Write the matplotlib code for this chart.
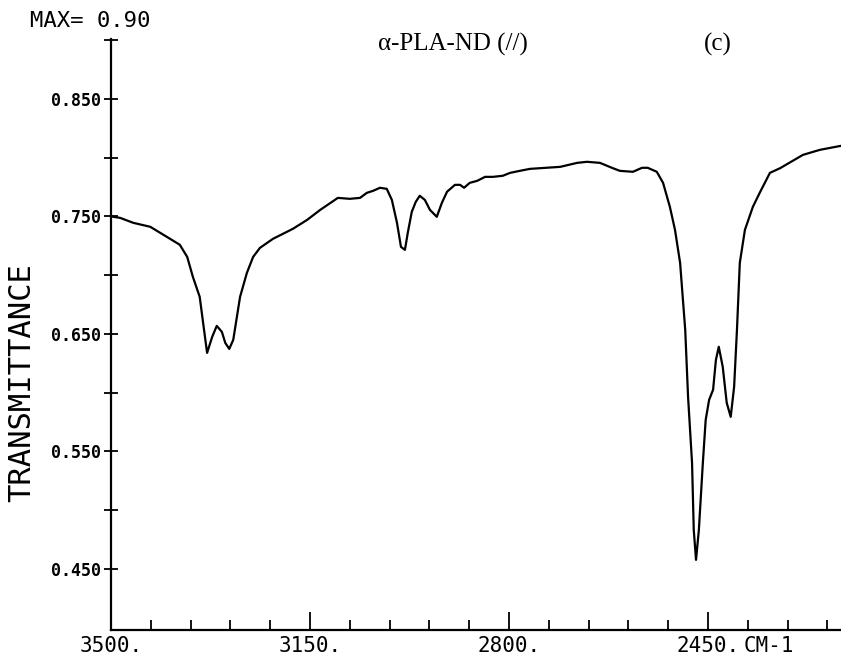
import numpy as np
import matplotlib.pyplot as plt
from matplotlib.ticker import FixedLocator

# wavenumber (cm-1) and transmittance
wavenumber = [3500, 3496, 3484, 3461, 3431, 3402, 3379, 3366, 3356, 3344,
              3338, 3331, 3322, 3314, 3305, 3299, 3292, 3285, 3273, 3261,
              3250, 3238, 3215, 3180, 3155, 3132, 3101, 3080, 3062, 3050,
              3039, 3027, 3015, 3006, 2997, 2990, 2983, 2978, 2971, 2964,
              2957, 2948, 2939, 2927, 2918, 2909, 2895, 2886, 2879, 2869,
              2856, 2842, 2828, 2811, 2798, 2781, 2763, 2710, 2680, 2663,
              2640, 2619, 2605, 2582, 2566, 2556, 2540, 2529, 2517, 2508,
              2499, 2490, 2485, 2478, 2475, 2471, 2466, 2459, 2454, 2448,
              2441, 2436, 2431, 2424, 2417, 2410, 2404, 2399, 2394, 2385,
              2371, 2359, 2341, 2323, 2283, 2253, 2216]
transmittance = [0.750, 0.7496, 0.7487, 0.7445, 0.7411, 0.7326, 0.7258, 0.7155, 0.6985, 0.6815,
                 0.6594, 0.6338, 0.6475, 0.6568, 0.6517, 0.6423, 0.6372, 0.6449, 0.6815, 0.7019,
                 0.7155, 0.7232, 0.7309, 0.7394, 0.7470, 0.7555, 0.7657, 0.7649, 0.7657, 0.7700,
                 0.7717, 0.7743, 0.7734, 0.7640, 0.7445, 0.7240, 0.7215, 0.7360, 0.7538, 0.7623,
                 0.7675, 0.7640, 0.7555, 0.7496, 0.7615, 0.7709, 0.7768, 0.7768, 0.7743, 0.7785,
                 0.7802, 0.7836, 0.7836, 0.7845, 0.7870, 0.7887, 0.7904, 0.7921, 0.7955, 0.7964,
                 0.7955, 0.7913, 0.7887, 0.7879, 0.7913, 0.7913, 0.7879, 0.7785, 0.7581, 0.7385,
                 0.7104, 0.6534, 0.5964, 0.5402, 0.4832, 0.4577, 0.4832, 0.5402, 0.5768, 0.5938,
                 0.6024, 0.6279, 0.6390, 0.6219, 0.5913, 0.5794, 0.6049, 0.6534, 0.7104, 0.7385,
                 0.7581, 0.7700, 0.7870, 0.7910, 0.8023, 0.8066, 0.8100]

x_major = [3500, 3150, 2800, 2450]
x_labels = ['3500.', '3150.', '2800.', '2450.']
x_minor = [3430, 3360, 3290, 3220, 3080, 3010, 2940, 2870,
           2730, 2660, 2590, 2520, 2380, 2310, 2240]
y_major = [0.450, 0.550, 0.650, 0.750, 0.850]
y_labels = ['0.450', '0.550', '0.650', '0.750', '0.850']
y_minor = [0.50, 0.60, 0.70, 0.80, 0.90]

mono = 'DejaVu Sans Mono'

fig = plt.figure(figsize=(8.41, 6.59), dpi=100)
ax = fig.add_axes([0.132, 0.044, 0.868, 0.897])

ax.plot(wavenumber, transmittance, color='black', lw=1.6)

ax.set_xlim(3500, 2216)
ax.set_ylim(0.398, 0.901)

ax.spines['top'].set_visible(False)
ax.spines['right'].set_visible(False)
ax.spines['left'].set_linewidth(1.6)
ax.spines['bottom'].set_linewidth(1.6)

ax.set_xticks(x_major)
ax.set_xticklabels(x_labels, fontfamily=mono, fontsize=15)
ax.xaxis.set_minor_locator(FixedLocator(x_minor))
ax.tick_params(axis='x', which='major', direction='in', length=13, width=1.3, pad=4)
ax.tick_params(axis='x', which='minor', direction='in', length=7, width=1.3)

ax.set_yticks(y_major)
ax.set_yticklabels(y_labels, fontfamily=mono, fontsize=12, fontweight='bold')
ax.yaxis.set_minor_locator(FixedLocator(y_minor))
ax.tick_params(axis='y', which='both', direction='inout', length=10, width=1.3, pad=2)

ax.text(2342, -0.0095, 'CM-1', transform=ax.get_xaxis_transform(),
        ha='center', va='top', fontfamily=mono, fontsize=15)

fig.text(0.036, 0.968, 'MAX= 0.90', fontfamily=mono, fontsize=16, va='center')
fig.text(0.026, 0.419, 'TRANSMITTANCE', rotation=90, fontfamily=mono, fontsize=22,
         ha='center', va='center')
fig.text(0.538, 0.933, '\u03b1-PLA-ND (//)', fontfamily='Liberation Serif', fontsize=18,
         ha='center', va='center')
fig.text(0.854, 0.933, '(c)', fontfamily='Liberation Serif', fontsize=18,
         ha='center', va='center')

fig.savefig('out.png', dpi=100)
